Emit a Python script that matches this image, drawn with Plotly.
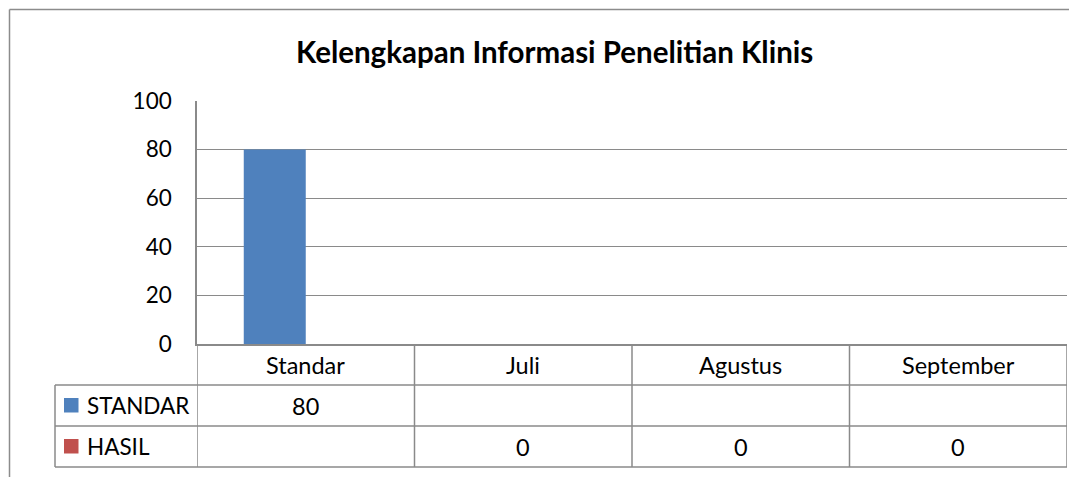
import plotly.graph_objects as go

categories = ["Standar", "Juli", "Agustus", "September"]
standar = [80, None, None, None]
hasil = [None, 0, 0, 0]
series_names = ["STANDAR", "HASIL"]
series_colors = ["#4F81BD", "#C0504D"]
title = "Kelengkapan Informasi Penelitian Klinis"

# the page body adds an 8px offset; figure is sized to fill the rest of the window
OFF = 8
W, H = 1077 - OFF, 477 - OFF
PL, PT, PR, PB = 197, 101, 1067, 344  # plot area in screen pixels
L, T = PL - OFF, PT - OFF
R, B = W - (PR - OFF), H - (PB - OFF)
pw = PR - PL
ph = PB - PT

def xp(px):
    return (px - PL) / pw

def yp(py):
    return (PB - py) / ph

FONT = "Lato"
FS = 23.5
grid = "#8a8a8a"

fig = go.Figure()
fig.add_trace(go.Bar(x=categories, y=standar, name=series_names[0],
                     marker=dict(color=series_colors[0], line=dict(width=0))))
fig.add_trace(go.Bar(x=categories, y=hasil, name=series_names[1],
                     marker=dict(color=series_colors[1], line=dict(width=0))))

shapes = []
# outer chart border
shapes.append(dict(type="line", xref="paper", yref="paper", x0=xp(9.5), x1=xp(1090),
                   y0=yp(9.5), y1=yp(9.5), line=dict(color="#8c8c8c", width=1.5)))
shapes.append(dict(type="line", xref="paper", yref="paper", x0=xp(9.5), x1=xp(9.5),
                   y0=yp(9.5), y1=yp(490), line=dict(color="#8c8c8c", width=1.5)))

row_lines = [385, 426, 467]
for py in row_lines:
    shapes.append(dict(type="line", xref="paper", yref="paper", x0=xp(55), x1=1,
                       y0=yp(py), y1=yp(py), line=dict(color=grid, width=1.5)))
# vertical lines of table
for i in range(len(categories) + 1):
    shapes.append(dict(type="line", xref="x", yref="paper", x0=i - 0.5, x1=i - 0.5,
                       y0=0, y1=yp(467), line=dict(color=grid, width=1.5)))
shapes.append(dict(type="line", xref="paper", yref="paper", x0=xp(55), x1=xp(55),
                   y0=yp(385), y1=yp(467), line=dict(color=grid, width=1.5)))

annotations = []
# category header
for c in categories:
    annotations.append(dict(x=c, xref="x", y=yp(365), yref="paper", text=c, showarrow=False,
                            font=dict(family=FONT, size=FS, color="black"),
                            xanchor="center", yanchor="middle"))
row_centers = [405.5, 446.5]
for name, col, vals, yc in zip(series_names, series_colors, [standar, hasil], row_centers):
    shapes.append(dict(type="rect", xref="paper", yref="paper", x0=xp(64), x1=xp(78.5),
                       y0=yp(yc - 7.5), y1=yp(yc + 7), fillcolor=col, line=dict(width=0)))
    annotations.append(dict(x=xp(85), xref="paper", y=yp(yc), yref="paper", text=name,
                            showarrow=False, xanchor="left", yanchor="middle",
                            font=dict(family=FONT, size=22.5, color="black")))
    for c, v in zip(categories, vals):
        if v is not None:
            annotations.append(dict(x=c, xref="x", y=yp(yc), yref="paper", text=str(v),
                                    showarrow=False, xanchor="center", yanchor="middle",
                                    font=dict(family=FONT, size=FS, color="black")))

annotations.append(dict(x=xp(554.5), xref="paper", y=yp(51), yref="paper", text="<b>" + title + "</b>",
                        showarrow=False, xanchor="center", yanchor="middle",
                        font=dict(family=FONT, size=29.5, color="black")))

fig.update_layout(
    width=W, height=H,
    margin=dict(l=L, r=R, t=T, b=B, autoexpand=False),
    paper_bgcolor="white", plot_bgcolor="white",
    barmode="group", bargap=0.43, bargroupgap=0,
    showlegend=False,
    shapes=shapes, annotations=annotations,
    xaxis=dict(range=[-0.5, 3.5], showticklabels=False, showgrid=False,
               showline=True, linecolor=grid, linewidth=1.5, zeroline=False, fixedrange=True),
    yaxis=dict(range=[0, 100], dtick=20, showgrid=True, gridcolor=grid, gridwidth=1.2,
               showline=True, linecolor=grid, linewidth=1.5, zeroline=False,
               ticks="outside", ticklen=19, tickcolor="rgba(0,0,0,0)",
               tickfont=dict(family=FONT, size=22.5, color="black"), fixedrange=True),
)

fig.write_html("out.html")
